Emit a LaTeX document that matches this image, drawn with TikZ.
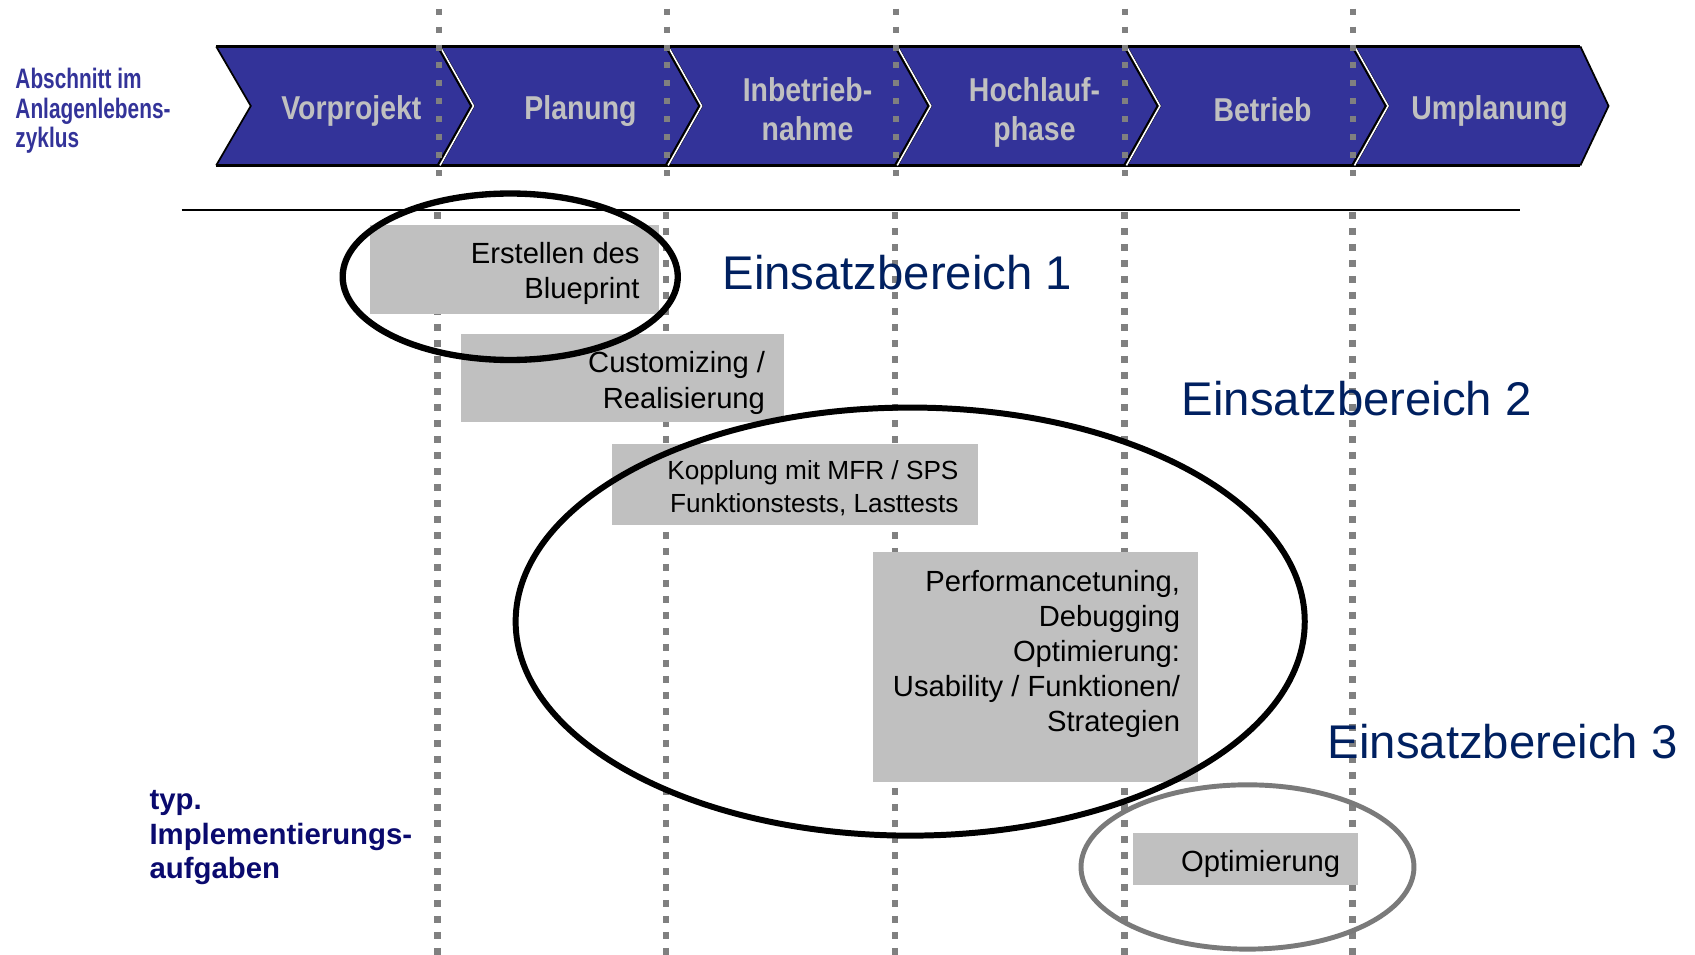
\documentclass[tikz,border=0pt]{standalone}
\usepackage{fontspec}
\usepackage{tikz}
\setmainfont{Liberation Sans}
\newfontfamily\phasefont{Liberation Sans}[FakeStretch=0.86]
\newfontfamily\narrowfont{Liberation Sans}[FakeStretch=0.74]
\definecolor{phaseblue}{HTML}{333399}
\definecolor{areablue}{HTML}{002060}
\definecolor{labelnavy}{HTML}{0A0A6E}
\definecolor{boxgray}{HTML}{C0C0C0}
\definecolor{dotgray}{HTML}{808080}

\begin{document}
\begin{tikzpicture}[x = 0.0216cm, y = -0.0216cm,
                    phase/.style = {align = center, text = boxgray, inner sep = 0pt,
                                    font = \phasefont\bfseries\fontsize{18.8}{22.7}\selectfont},
                    task/.style = {align = right, anchor = north east, inner sep = 0pt,
                                   font = \fontsize{16.6}{20}\selectfont},
                    area/.style = {anchor = north west, inner sep = 0pt, text = areablue,
                                   font = \fontsize{26.9}{30}\selectfont},
                    divider/.style = {dotgray, line width = 3.8pt, dash pattern = on 3.8pt off 5.3pt},
                    ring/.style = {line width = 3.6pt}]
      \useasboundingbox (0, 0) rectangle (1568, 883);

      % band of phases
      \fill [phaseblue] (200, 43) -- (1462, 43) -- (1488, 98) -- (1462, 153)
                        -- (200, 153) -- (232, 98) -- cycle;
      \draw [line width = 1pt] (200, 43) -- (232, 98) -- (200, 153);
      \draw [line width = 1pt] (1462, 43) -- (1488, 98) -- (1462, 153);
      \draw [line width = 2pt] (200, 43) -- (1462, 43);
      \draw [line width = 2pt] (200, 153) -- (1462, 153);
      \foreach \x in {406, 617, 829, 1041, 1252} {
        \draw [line width = 2.4pt] (\x, 43) -- (\x + 31, 98) -- (\x, 153);
        \draw [white, line width = 0.9pt] (\x + 1, 43) -- (\x + 32, 98) -- (\x + 1, 153);
        \draw [divider, line width = 3.4pt, dash pattern = on 3.4pt off 6.8pt] (\x, 8) -- (\x, 166);
        \draw [divider] (\x - 1, 196) -- (\x - 1, 883);
      }

      \node [phase] (p1) at (325, 103) {Vorprojekt};
      \node [phase] (p2) at (537, 103) {Planung};
      \node [phase] (p3) at (747, 101) {Inbetrieb-\\nahme};
      \node [phase] (p4) at (957, 104) {Hochlauf-\\phase};
      \node [phase] (p5) at (1168, 101) {Betrieb};
      \node [phase] (p6) at (1378, 103) {Umplanung};

      \node [anchor = north west, align = left, inner sep = 0pt, text = phaseblue,
             font = \narrowfont\bfseries\fontsize{16}{16.6}\selectfont] (cycle) at (14, 63)
            {Abschnitt im\\Anlagenlebens-\\zyklus};

      \draw [line width = 1pt] (168, 194) -- (1406, 194);

      % tasks
      \fill [boxgray] (342, 208) rectangle (610, 290);
      \fill [boxgray] (426, 309) rectangle (725, 390);
      \fill [boxgray] (566, 411) rectangle (905, 486);
      \fill [boxgray] (808, 511) rectangle (1108, 723);
      \fill [boxgray] (1048, 771) rectangle (1256, 819);

      \node [task] (t1) at (592, 224) {Erstellen des\\Blueprint};
      \node [task] (t2) at (708, 325) {Customizing /\\Realisierung};
      \node [task, font = \fontsize{14.9}{18.4}\selectfont] (t3) at (887, 426)
            {Kopplung mit MFR / SPS\\Funktionstests, Lasttests};
      \node [task] (t4) at (1092, 527)
            {Performancetuning,\\Debugging\\Optimierung:\\Usability / Funktionen/\\Strategien};
      \node [task] (t5) at (1240, 786) {Optimierung};

      \node [anchor = north west, align = left, inner sep = 0pt, text = labelnavy,
             font = \bfseries\fontsize{16.7}{19.6}\selectfont] (typ) at (138, 731)
            {typ.\\Implementierungs-\\aufgaben};

      % areas
      \node [area] (e1) at (668, 236) {Einsatzbereich 1};
      \node [area] (e2) at (1093, 352) {Einsatzbereich 2};
      \node [area] (e3) at (1228, 670) {Einsatzbereich 3};

      \draw [ring] (472, 256) ellipse [x radius = 155, y radius = 77];
      \draw [ring, line width = 3.4pt] (842, 575) ellipse [x radius = 365, y radius = 198];
      \draw [ring, line width = 2.8pt, color = dotgray!95!black] (1154, 802) ellipse [x radius = 154, y radius = 76];
    \end{tikzpicture}
\end{document}
